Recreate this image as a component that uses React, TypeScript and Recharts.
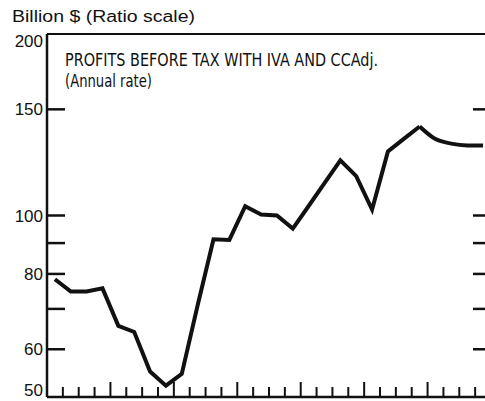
import { LineChart, Line, XAxis, YAxis, ReferenceLine } from "recharts";

// quarterly profits, billion $ (annual rate)
const profits = [
  78.4, 74.8, 74.8, 75.7, 65.6, 64.1, 55.1, 52.2, 54.6, 71, 91.3, 91.1,
  103.6, 100.4, 100, 95.1, 103.7, 113.2, 123.4, 116.2, 102.3, 127.7, 134, 140.5,
];
// smoothed tail, starts at the last actual point
const projected = [140.5, 133.9, 131.6, 130.7, 130.6];

const yTicks = [50, 60, 70, 80, 90, 100, 150, 200];
const yLabels = [50, 60, 80, 100, 150, 200];
const quarterCount = 28;
const xTicks = Array.from({ length: quarterCount + 1 }, (_, i) => i);

const tailStart = profits.length - 1;
const data = Array.from({ length: quarterCount }, (_, i) => ({
  pos: i + 0.5,
  actual: i < profits.length ? profits[i] : null,
  proj: i >= tailStart && i - tailStart < projected.length ? projected[i - tailStart] : null,
}));

const INK = "#111";
const FONT = "'Liberation Sans', Arial, sans-serif";
const NARROW = "'Liberation Sans Narrow', 'DejaVu Sans Condensed', 'Liberation Sans', sans-serif";

function LeftTick(props: any) {
  const { x, y, payload } = props;
  const v = payload.value;
  const dy = v === 200 ? 12.5 : v === 50 ? -1 : 6;
  return (
    <g>
      {v !== 200 && v !== 50 && (
        <line x1={x} x2={x + 18} y1={y} y2={y} stroke={INK} strokeWidth={2.5} />
      )}
      {yLabels.includes(v) && (
        <text x={x - 4} y={y + dy} textAnchor="end" fontFamily={FONT} fontSize={17} fill={INK}>
          {v}
        </text>
      )}
    </g>
  );
}

function RightTick(props: any) {
  const { x, y, payload } = props;
  const v = payload.value;
  if (v === 200 || v === 50) return <g />;
  return <line x1={x - 18} x2={x} y1={y} y2={y} stroke={INK} strokeWidth={2.5} />;
}

function BottomTick(props: any) {
  const { x, y, payload } = props;
  const tall = payload.value % 4 === 0;
  return <line x1={x} x2={x} y1={y} y2={y - (tall ? 15 : 10)} stroke={INK} strokeWidth={2} />;
}

export default function App() {
  return (
    <div
      style={{
        position: "absolute",
        left: 0,
        top: 0,
        width: 485,
        height: 401,
        overflow: "hidden",
        background: "#fff",
      }}
    >
      <LineChart width={500} height={401} data={data} margin={{ top: 34, right: 0, bottom: 0, left: 0 }}>
        <XAxis
          dataKey="pos"
          type="number"
          domain={[0, quarterCount]}
          ticks={xTicks}
          interval={0}
          height={4}
          tickSize={0}
          tickMargin={0}
          tickLine={false}
          axisLine={{ stroke: INK, strokeWidth: 2.5 }}
          tick={BottomTick}
        />
        <YAxis
          yAxisId="l"
          type="number"
          scale="log"
          domain={[50, 200]}
          ticks={yTicks}
          interval={0}
          width={47}
          tickSize={0}
          tickMargin={0}
          tickLine={false}
          allowDataOverflow
          axisLine={{ stroke: INK, strokeWidth: 2.5 }}
          tick={LeftTick}
        />
        <YAxis
          yAxisId="r"
          orientation="right"
          type="number"
          scale="log"
          domain={[50, 200]}
          ticks={yTicks}
          interval={0}
          width={9}
          tickSize={0}
          tickMargin={0}
          tickLine={false}
          allowDataOverflow
          axisLine={{ stroke: INK, strokeWidth: 2.5 }}
          tick={RightTick}
        />
        <ReferenceLine yAxisId="l" y={200} stroke={INK} strokeWidth={2} />
        <Line
          yAxisId="l"
          dataKey="actual"
          type="linear"
          stroke={INK}
          strokeWidth={4}
          dot={false}
          activeDot={false}
          isAnimationActive={false}
        />
        <Line
          yAxisId="l"
          dataKey="proj"
          type="monotone"
          stroke={INK}
          strokeWidth={4}
          dot={false}
          activeDot={false}
          isAnimationActive={false}
        />
      </LineChart>
      <svg
        width={485}
        height={401}
        style={{ position: "absolute", left: 0, top: 0, pointerEvents: "none" }}
      >
        <text x={12} y={22} fontFamily={FONT} fontSize={16} fill={INK} textLength={183} lengthAdjust="spacingAndGlyphs">
          Billion $ (Ratio scale)
        </text>
        <text x={65} y={65.7} fontFamily={NARROW} fontSize={17} fill={INK} textLength={313} lengthAdjust="spacingAndGlyphs">
          PROFITS BEFORE TAX WITH IVA AND CCAdj.
        </text>
        <text x={65} y={86.5} fontFamily={NARROW} fontSize={17} fill={INK} textLength={87} lengthAdjust="spacingAndGlyphs">
          (Annual rate)
        </text>
      </svg>
    </div>
  );
}
